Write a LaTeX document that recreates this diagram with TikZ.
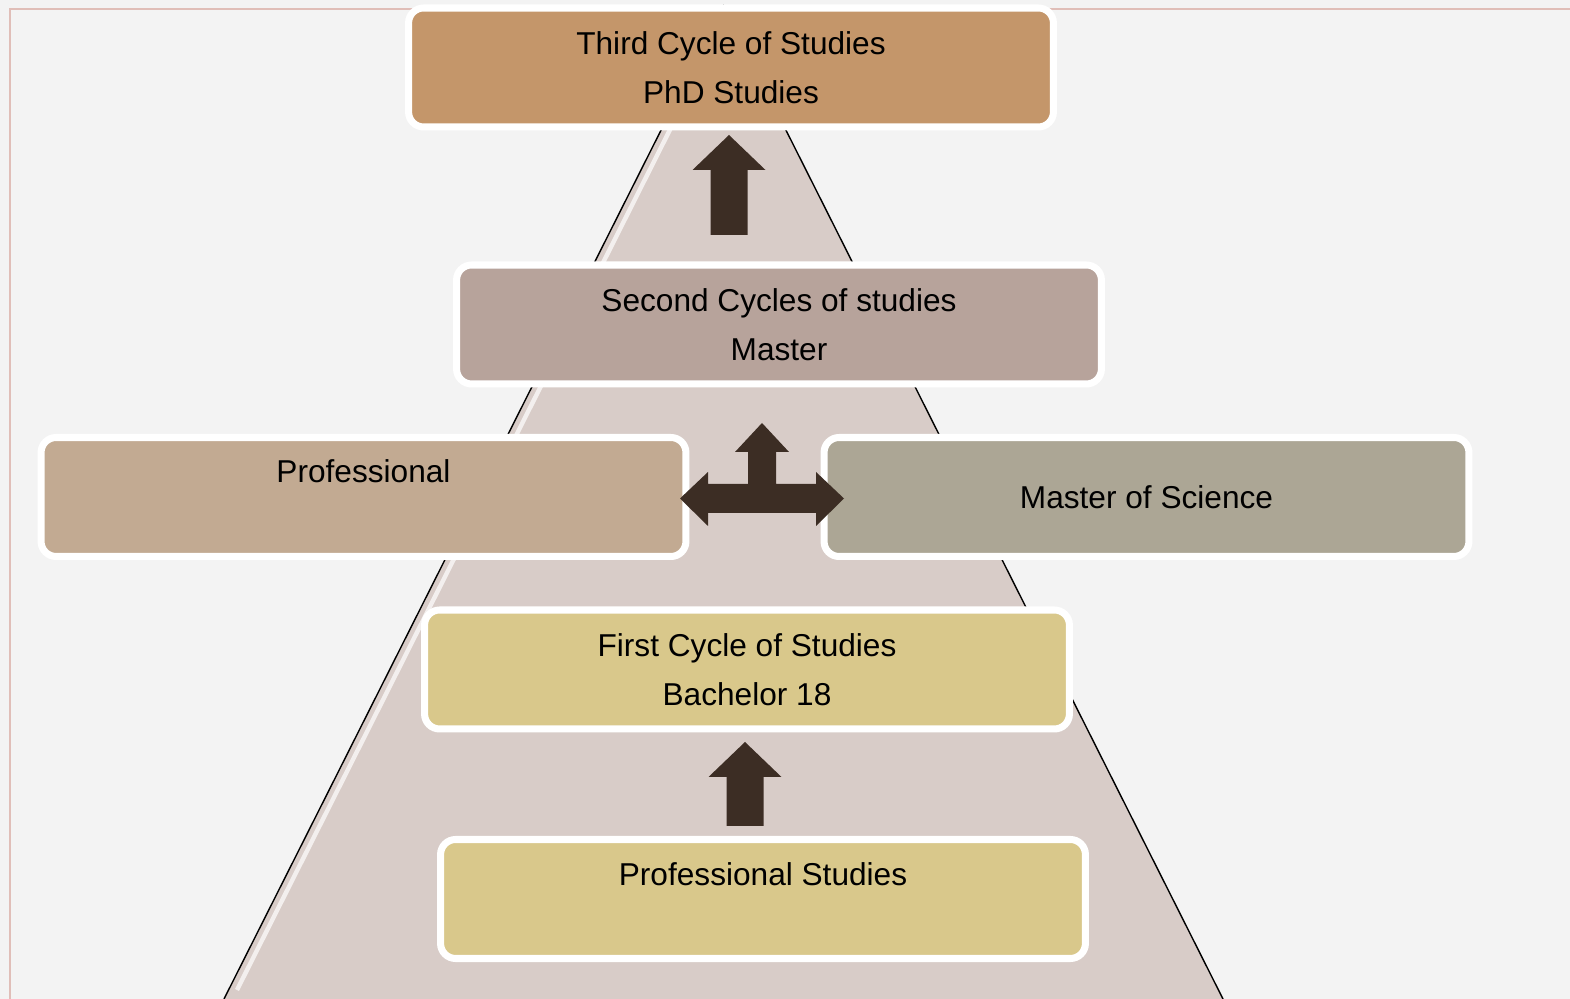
\documentclass[tikz,border=0pt]{standalone}
\usepackage{fontspec}
\setmainfont{Liberation Sans}
\usetikzlibrary{shadows}

\definecolor{bgc}{RGB}{243,243,243}
\definecolor{framec}{RGB}{224,190,184}
\definecolor{pyrc}{RGB}{216,204,200}
\definecolor{arrc}{RGB}{60,45,36}
\definecolor{phdc}{RGB}{196,150,106}
\definecolor{mastc}{RGB}{183,163,155}
\definecolor{profc}{RGB}{194,170,146}
\definecolor{mscc}{RGB}{172,166,149}
\definecolor{bachc}{RGB}{217,200,139}

\tikzset{
  cyclebox/.style={draw=white,line width=4pt,rounded corners=0.3cm,
    minimum width=12.9cm,minimum height=2.38cm,align=center,
    font=\fontsize{18}{27.8}\selectfont,
    drop shadow={shadow xshift=0.6pt,shadow yshift=-0.9pt,opacity=0.3}},
}

% block arrow pointing up: centre x, tip y, base y
\newcommand\uparrowblock[3]{%
  \fill[arrc] (#1-18.5,#3) -- (#1-18.5,#2+35) -- (#1-36.5,#2+35) -- (#1,#2)
    -- (#1+36.5,#2+35) -- (#1+18.5,#2+35) -- (#1+18.5,#3) -- cycle;}

\begin{document}
\begin{tikzpicture}[x=0.02cm,y=-0.02cm]
  \fill[bgc] (0,0) rectangle (1570,999);
  \useasboundingbox (0,0) rectangle (1570,999);
  \draw[framec,line width=1pt] (10,999) -- (10,9) -- (1570,9);

  % pyramid
  \fill[pyrc] (723.5,6) -- (224,999) -- (1223,999) -- cycle;
  \draw[white,line width=2.5pt,opacity=.7] (695,80) -- (237,990);
  \draw[line width=0.8pt] (224,999) -- (723.5,6) -- (1223,999);

  \node[cyclebox,fill=phdc] (PhD) at (731,67.5) {Third Cycle of Studies\\PhD Studies};
  \node[cyclebox,fill=mastc] (Master) at (779,324.5) {Second Cycles of studies\\Master};
  \node[cyclebox,fill=profc] (Prof) at (363.5,497) {Professional\\[-0.24cm]\strut};
  \node[cyclebox,fill=mscc] (MSc) at (1146.5,497) {Master of Science};
  \node[cyclebox,fill=bachc] (Bachelor) at (747,669.5) {First Cycle of Studies\\Bachelor 18};
  \node[cyclebox,fill=bachc] (ProfStudies) at (763,899) {Professional Studies\\[-0.26cm]\strut};

  % arrows
  \uparrowblock{729}{135}{235}
  \uparrowblock{745}{742}{826}
  \fill[arrc] (748,484) -- (748,452) -- (735,452) -- (762,423) -- (789,452)
    -- (776,452) -- (776,484) -- (816,484) -- (816,472) -- (844,498.5)
    -- (816,526) -- (816,513) -- (708,513) -- (708,526) -- (680,498.5)
    -- (708,472) -- (708,484) -- cycle;
\end{tikzpicture}
\end{document}
